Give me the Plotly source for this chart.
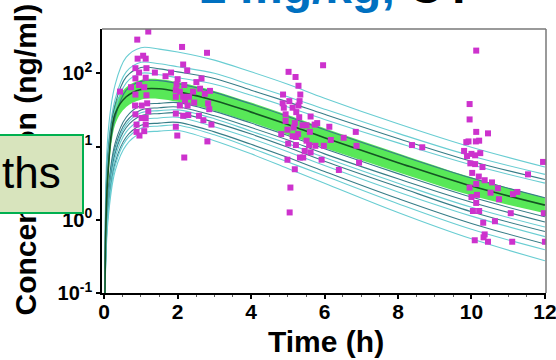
import numpy as np
import plotly.graph_objects as go

# ---------------- data ----------------
time_h = [0.02, 0.1, 0.3, 0.6, 1, 1.5, 2, 3, 4, 5, 6, 8, 10, 12]

# simulated individual profiles, log10(ng/ml) at time_h
sim01 = [-1.1, 1.15, 1.85, 2.22, 2.35, 2.33, 2.29, 2.18, 2.02, 1.85, 1.66, 1.31, 0.99, 0.72]
sim02 = [-1.1, 0.95, 1.65, 2.02, 2.15, 2.13, 2.09, 2.00, 1.84, 1.68, 1.51, 1.18, 0.87, 0.62]
sim03 = [-1.1, 0.88, 1.58, 1.95, 2.08, 2.06, 2.02, 1.93, 1.77, 1.61, 1.44, 1.11, 0.80, 0.55]
sim04 = [-1.1, 0.80, 1.50, 1.87, 2.00, 1.98, 1.94, 1.85, 1.70, 1.54, 1.37, 1.05, 0.75, 0.50]
sim05 = [-1.1, 0.70, 1.40, 1.77, 1.89, 1.90, 1.86, 1.74, 1.58, 1.41, 1.23, 0.89, 0.57, 0.30]
sim06 = [-1.1, 0.35, 1.05, 1.40, 1.56, 1.59, 1.60, 1.48, 1.32, 1.15, 0.97, 0.63, 0.31, 0.04]
sim07 = [-1.1, 0.29, 0.99, 1.34, 1.50, 1.53, 1.54, 1.42, 1.26, 1.09, 0.90, 0.56, 0.24, -0.03]
sim08 = [-1.1, 0.25, 0.95, 1.30, 1.46, 1.49, 1.50, 1.38, 1.21, 1.04, 0.85, 0.50, 0.17, -0.10]
sim09 = [-1.1, 0.21, 0.91, 1.26, 1.42, 1.45, 1.46, 1.33, 1.17, 0.99, 0.80, 0.45, 0.11, -0.16]
sim10 = [-1.1, 0.15, 0.85, 1.20, 1.36, 1.39, 1.40, 1.27, 1.11, 0.93, 0.74, 0.38, 0.05, -0.23]
sim11 = [-1.1, 0.08, 0.78, 1.13, 1.29, 1.32, 1.33, 1.20, 1.03, 0.85, 0.66, 0.29, -0.05, -0.33]
sim12 = [-1.1, 0.04, 0.74, 1.09, 1.25, 1.28, 1.29, 1.16, 0.98, 0.79, 0.60, 0.22, -0.13, -0.41]
sim13 = [-1.1, -0.03, 0.67, 1.02, 1.18, 1.21, 1.22, 1.08, 0.90, 0.70, 0.50, 0.10, -0.26, -0.56]

# population median and its interval band, log10(ng/ml)
median_log10 = [-1.1, 0.60, 1.45, 1.68, 1.78, 1.79, 1.75, 1.63, 1.47, 1.30, 1.12, 0.78, 0.46, 0.20]
band_time_h = [0.1, 0.3, 0.6, 1, 1.5, 2, 3, 4, 5, 6, 8, 10, 12]
band_upper_log10 = [0.80, 1.58, 1.81, 1.91, 1.92, 1.88, 1.76, 1.60, 1.43, 1.25, 0.91, 0.58, 0.30]
band_lower_log10 = [0.40, 1.30, 1.54, 1.64, 1.65, 1.61, 1.49, 1.33, 1.16, 0.98, 0.65, 0.33, 0.09]

# observed concentrations
obs_time_h = [
    1.2, 0.9, 2.12, 2.8, 0.91, 1.06, 1.13, 2.15, 2.26, 0.85, 1.15, 0.95, 1.38, 1.82, 1.67,
    2.65, 0.85, 1.13, 2.0, 2.51, 0.43, 0.73, 0.95, 1.09, 1.97, 2.18, 2.61, 2.88, 2.74, 0.85,
    1.15, 1.95, 2.06, 2.42, 1.95, 2.15, 2.31, 2.2, 2.45, 2.06, 2.27, 2.83, 0.84, 1.02, 1.17,
    1.2, 0.85, 1.95, 2.15, 2.29, 2.58, 2.86, 1.02, 1.13, 2.7, 2.92, 0.88, 1.13, 1.95, 0.88,
    1.09, 0.96, 1.99, 2.81, 2.18,
    5.96, 5.02, 5.21, 5.29, 4.87, 5.34, 5.04, 4.86, 5.32, 4.89, 5.13, 5.29, 5.23, 4.94, 5.31,
    5.62, 4.94, 5.19, 5.4, 5.51, 5.73, 5.8, 6.13, 6.85, 4.99, 5.16, 5.6, 4.82, 5.13, 5.22,
    5.28, 6.52, 6.17, 5.51, 6.87, 5.01, 5.22, 5.58, 5.75, 5.98, 5.46, 5.62, 5.33, 5.42, 4.99,
    5.92, 6.94, 6.39, 5.19, 5.07, 5.05,
    10.13, 9.95, 9.95, 8.38, 8.66, 10.13, 10.45, 9.86, 9.92, 10.12, 10.21, 9.8, 9.88, 10.0,
    10.1, 10.24, 9.97, 10.1, 10.3, 10.02, 10.2, 10.36, 10.56, 10.13, 9.95, 10.72, 10.52,
    10.15, 11.13, 11.25, 10.75, 10.0, 10.13, 10.04, 10.21, 11.07, 11.95, 11.54, 11.97, 10.32,
    10.64, 10.36, 10.33, 10.45, 10.09, 11.11, 12.0,
]
obs_log10 = [
    2.57, 2.46, 2.36, 2.28, 2.20, 2.24, 2.20, 2.12, 2.04, 2.07, 2.07, 2.01, 2.01, 2.01, 1.96,
    1.93, 1.93, 1.94, 1.92, 1.88, 1.75, 1.81, 1.84, 1.81, 1.85, 1.84, 1.79, 1.76, 1.72, 1.71,
    1.70, 1.77, 1.75, 1.75, 1.68, 1.68, 1.68, 1.63, 1.60, 1.56, 1.56, 1.59, 1.56, 1.56, 1.59,
    1.48, 1.44, 1.45, 1.42, 1.43, 1.42, 1.51, 1.39, 1.39, 1.36, 1.30, 1.30, 1.30, 1.27, 1.20,
    1.21, 1.15, 1.15, 1.07, 0.85,
    2.11, 2.02, 1.95, 1.83, 1.71, 1.71, 1.62, 1.59, 1.62, 1.53, 1.53, 1.56, 1.47, 1.44, 1.40,
    1.41, 1.35, 1.32, 1.29, 1.29, 1.30, 1.32, 1.27, 1.20, 1.23, 1.26, 1.20, 1.17, 1.14, 1.13,
    1.17, 1.12, 1.09, 1.08, 1.01, 1.04, 1.02, 1.02, 1.01, 1.01, 0.94, 0.92, 0.85, 0.85, 0.82,
    0.82, 0.78, 0.68, 0.69, 0.44, 0.10,
    2.31, 1.58, 1.37, 1.02, 0.99, 1.20, 1.18, 1.06, 1.07, 1.07, 1.08, 0.94, 0.87, 0.90,
    0.88, 0.91, 0.77, 0.76, 0.72, 0.64, 0.59, 0.54, 0.51, 0.49, 0.44, 0.43, 0.37,
    0.34, 0.35, 0.38, 0.28, 0.31, 0.23, 0.12, 0.12, 0.09, 0.79, 0.62, 0.09, -0.04,
    -0.02, -0.20, -0.24, -0.30, -0.28, -0.30, -0.30,
]

x_tick_vals = [0, 2, 4, 6, 8, 10, 12]
y_tick_vals = [0.1, 1, 10, 100]
y_tick_text = ["10<sup>-1</sup>", "10<sup>0</sup>", "10<sup>1</sup>", "10<sup>2</sup>"]

# ---------------- styling / figure ----------------
W, H = 556, 360
ML, MR, MT, MB = 102, 10, 29, 67
PW, PH = W - ML - MR, H - MT - MB


def px_x(p):
    return (p - ML) / PW


def px_y(p):
    return (H - MB - p) / PH


LIGHT = "rgb(105,205,210)"
DARK = "rgb(55,125,135)"
sims = [sim01, sim02, sim03, sim04, sim05, sim06, sim07, sim08, sim09, sim10, sim11, sim12, sim13]
sim_colors = [LIGHT, LIGHT, DARK, LIGHT, DARK, DARK, DARK, LIGHT, DARK, LIGHT, DARK, LIGHT, LIGHT]

fig = go.Figure()

# band
fig.add_trace(go.Scatter(x=band_time_h, y=np.power(10.0, band_lower_log10), mode="lines",
                         line=dict(width=0, shape="spline", color="rgba(0,0,0,0)"),
                         hoverinfo="skip", showlegend=False))
fig.add_trace(go.Scatter(x=band_time_h, y=np.power(10.0, band_upper_log10), mode="lines",
                         line=dict(width=0, shape="spline", color="rgba(0,0,0,0)"),
                         fill="tonexty", fillcolor="rgb(88,232,88)",
                         hoverinfo="skip", showlegend=False))

for s, c in zip(sims, sim_colors):
    fig.add_trace(go.Scatter(x=time_h, y=np.power(10.0, s), mode="lines",
                             line=dict(color=c, width=1.1, shape="spline"),
                             showlegend=False))

fig.add_trace(go.Scatter(x=time_h, y=np.power(10.0, median_log10), mode="lines",
                         line=dict(color="rgb(20,85,35)", width=1.6, shape="spline"),
                         showlegend=False))

fig.add_trace(go.Scatter(x=obs_time_h, y=np.power(10.0, obs_log10), mode="markers",
                         marker=dict(symbol="square", size=6, color="rgb(205,50,205)",
                                     line=dict(width=0)),
                         showlegend=False))

FONT = "Liberation Sans, Arial, sans-serif"

fig.update_layout(
    width=W, height=H,
    margin=dict(l=ML, r=MR, t=MT, b=MB, pad=0, autoexpand=False),
    paper_bgcolor="white", plot_bgcolor="white",
    showlegend=False,
    font=dict(family=FONT, color="black"),
)

fig.update_xaxes(
    range=[-0.06, 12.03], tickvals=x_tick_vals, ticks="outside", ticklen=4, tickwidth=1.5,
    tickcolor="black", showline=True, linecolor="black", linewidth=1.5, automargin=False,
    showgrid=False, zeroline=False, ticklabeloverflow="allow", ticklabelstandoff=-5,
    tickfont=dict(family=FONT, size=21, color="black", weight="bold"),
    minor=dict(dtick=0.5, ticks="outside", ticklen=2, tickcolor="rgb(90,90,90)", tickwidth=1),
)
fig.update_yaxes(
    type="log", range=[-1, 2.605], tickvals=y_tick_vals, ticktext=y_tick_text,
    ticks="outside", ticklen=4, tickwidth=1.5, tickcolor="black", automargin=False,
    showline=True, linecolor="black", linewidth=1.5, showgrid=False, zeroline=False,
    tickfont=dict(family=FONT, size=20, color="black", weight="bold"),
)

# gray top / right frame
fig.add_shape(type="line", xref="paper", yref="paper", x0=0, x1=1, y0=1, y1=1,
              line=dict(color="rgb(120,120,120)", width=1.5))
fig.add_shape(type="line", xref="paper", yref="paper", x0=1, x1=1, y0=0, y1=1,
              line=dict(color="rgb(120,120,120)", width=1.5))

annotations = [
    dict(text='2 mg/kg, <span style="color:black">CY</span>', x=px_x(198), y=px_y(15),
         xanchor="left", yanchor="bottom",
         font=dict(family=FONT, size=48, color="rgb(0,112,192)", weight="bold")),
    dict(text="Concentration (ng/ml)", textangle=-90, x=px_x(24.5), y=px_y(160),
         xanchor="center", yanchor="middle",
         font=dict(family=FONT, size=30, color="black", weight="bold")),
    dict(text="Time (h)", x=px_x(325.5), y=px_y(341.5), xanchor="center", yanchor="middle",
         font=dict(family=FONT, size=30, color="black", weight="bold")),
    dict(text=" ", x=px_x(84), y=px_y(134), xanchor="right", yanchor="top",
         width=150, height=76, bgcolor="rgb(216,228,189)", bordercolor="rgb(0,176,80)",
         borderwidth=2, borderpad=0, font=dict(size=10)),
    dict(text="ths", x=px_x(63), y=px_y(172), xanchor="right", yanchor="middle",
         font=dict(family=FONT, size=44, color="black")),
]
for a in annotations:
    a.update(xref="paper", yref="paper", showarrow=False)
    fig.add_annotation(**a)

fig.write_html("out.html")
